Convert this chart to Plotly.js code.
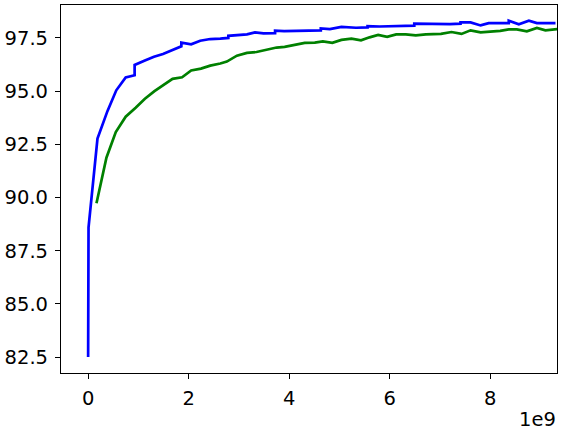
<!DOCTYPE html>
<html>
<head>
<meta charset="utf-8">
<script src="https://cdn.plot.ly/plotly-3.0.1.min.js"></script>
<style>html,body{margin:0;padding:0;background:#fff;}#chart{width:562px;height:433px;}</style>
</head>
<body>
<div id="chart"></div>
<script>
// x values in units of 1e9
const blueX = [0, 0.008, 0.186, 0.384, 0.56, 0.747, 0.925, 0.925, 1.13, 1.31, 1.49, 1.68, 1.855, 1.855, 2.05, 2.23, 2.43, 2.63, 2.79, 2.79, 2.97, 3.16, 3.32, 3.49, 3.72, 3.72, 3.9, 4.15, 4.4, 4.63, 4.63, 4.81, 5.04, 5.2, 5.33, 5.56, 5.56, 5.8, 6.1, 6.49, 6.49, 6.7, 6.92, 7.2, 7.41, 7.41, 7.61, 7.81, 7.97, 8.2, 8.37, 8.37, 8.57, 8.77, 8.93, 9.3];
const blueY = [82.5, 88.6, 92.77, 94.06, 95.04, 95.64, 95.75, 96.23, 96.44, 96.62, 96.75, 96.95, 97.11, 97.28, 97.2, 97.37, 97.45, 97.47, 97.5, 97.6, 97.62, 97.67, 97.76, 97.72, 97.73, 97.84, 97.82, 97.83, 97.84, 97.86, 97.95, 97.92, 98.02, 98.0, 97.98, 98.0, 98.06, 98.04, 98.06, 98.08, 98.17, 98.16, 98.14, 98.15, 98.17, 98.23, 98.23, 98.09, 98.2, 98.19, 98.2, 98.31, 98.14, 98.31, 98.2, 98.2];
const greenX = [0.166, 0.364, 0.55, 0.747, 0.945, 1.13, 1.32, 1.505, 1.68, 1.87, 2.05, 2.245, 2.43, 2.63, 2.76, 2.96, 3.16, 3.35, 3.55, 3.75, 3.91, 4.11, 4.31, 4.51, 4.67, 4.86, 5.04, 5.24, 5.43, 5.6, 5.77, 5.95, 6.13, 6.32, 6.52, 6.72, 7.02, 7.23, 7.43, 7.61, 7.81, 8.0, 8.2, 8.37, 8.53, 8.73, 8.93, 9.1, 9.3, 9.5];
const greenY = [89.73, 91.87, 93.08, 93.8, 94.22, 94.64, 95.0, 95.31, 95.58, 95.65, 95.97, 96.06, 96.2, 96.3, 96.39, 96.67, 96.8, 96.84, 96.94, 97.05, 97.08, 97.19, 97.27, 97.28, 97.34, 97.27, 97.41, 97.47, 97.39, 97.53, 97.64, 97.55, 97.67, 97.67, 97.62, 97.67, 97.69, 97.78, 97.69, 97.86, 97.76, 97.8, 97.83, 97.9, 97.9, 97.81, 97.97, 97.86, 97.92, 97.95];
const xTickVals = [0, 2, 4, 6, 8];
const xTickText = ["0", "2", "4", "6", "8"];
const yTickVals = [82.5, 85.0, 87.5, 90.0, 92.5, 95.0, 97.5];
const xScaleLabel = "1e9";

const scale = 1e9;
const FS = 19.5;
const traces = [
  {x: blueX.map(v => v * scale), y: blueY, mode: 'lines', line: {color: '#0000ff', width: 2.7}, hoverinfo: 'skip'},
  {x: greenX.map(v => v * scale), y: greenY, mode: 'lines', line: {color: '#008000', width: 2.7}, hoverinfo: 'skip'}
];
const axisCommon = {
  showline: true, mirror: true, linecolor: '#000', linewidth: 1.1,
  ticks: 'outside', ticklen: 5, tickwidth: 1, tickcolor: '#000',
  showgrid: false, zeroline: false,
  tickfont: {family: 'DejaVu Sans', size: FS, color: '#000'}
};
const layout = {
  width: 562, height: 433,
  margin: {l: 61, r: 5, t: 5, b: 60},
  paper_bgcolor: '#fff', plot_bgcolor: '#fff',
  showlegend: false,
  xaxis: Object.assign({}, axisCommon, {
    range: [-0.54e9, 9.33e9],
    tickvals: xTickVals.map(v => v * scale), ticktext: xTickText,
    ticklabelstandoff: 2
  }),
  yaxis: Object.assign({}, axisCommon, {
    range: [81.75, 99.05],
    tickvals: yTickVals, tickformat: '.1f',
    ticklabelstandoff: 3
  }),
  annotations: [{
    text: xScaleLabel, xref: 'paper', yref: 'paper', x: 1, y: 0,
    xanchor: 'right', yanchor: 'top', yshift: -33, xshift: 1, showarrow: false,
    font: {family: 'DejaVu Sans', size: FS, color: '#000'}
  }]
};
Plotly.newPlot('chart', traces, layout, {staticPlot: true, displayModeBar: false});
</script>
</body>
</html>
